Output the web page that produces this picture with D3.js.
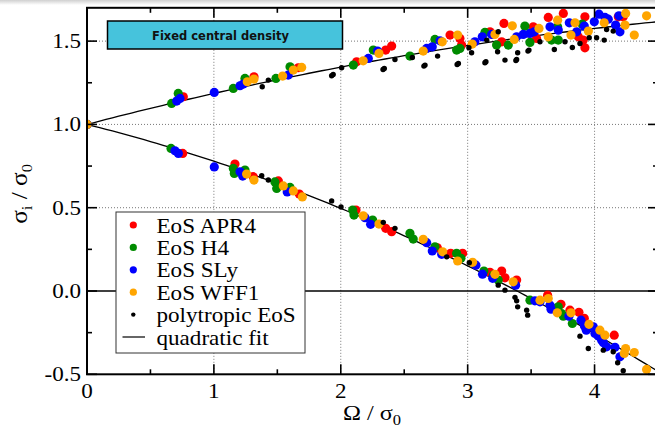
<!DOCTYPE html>
<html>
<head>
<meta charset="utf-8">
<script src="https://cdn.jsdelivr.net/npm/d3@7"></script>
<style>
  html, body { margin: 0; padding: 0; background: #fff; }
  svg { display: block; }
</style>
</head>
<body>
<svg id="chart" width="655" height="429"></svg>
<script>
// ---------------- data ----------------
const seriesNames = ["EoS APR4", "EoS H4", "EoS SLy", "EoS WFF1", "polytropic EoS"];
const xTickLabels = ["0", "1", "2", "3", "4"];
const yTickLabels = ["-0.5", "0.0", "0.5", "1.0", "1.5"];

const apr4 = [
  [0,1.0],[0.759,1.166],[1.316,1.286],[1.665,1.34],[2.125,1.376],[2.354,1.446],[2.401,1.47],
  [2.861,1.536],[2.939,1.516],[2.952,1.476],[3.176,1.556],[3.268,1.496],[3.286,1.606],[3.517,1.586],
  [3.543,1.516],[3.635,1.642],[3.754,1.666],[3.872,1.526],[3.911,1.506],[3.924,1.46],[3.924,1.646],
  [4.187,1.646],[4.226,1.646],
  [0.754,0.826],[1.166,0.762],[1.31,0.686],[1.508,0.661],[1.673,0.582],[2.12,0.486],[2.354,0.376],
  [2.401,0.356],[2.761,0.259],[2.866,0.226],[2.96,0.226],[3.176,0.112],[3.268,0.12],[3.294,0.079],
  [3.386,0.066],[3.63,-0.025],[3.735,-0.08],[3.806,-0.115],[3.877,-0.128],[3.919,-0.164],[4.155,-0.265]
];
const h4 = [
  [0,1.0],[0.667,1.126],[0.719,1.186],[1.153,1.216],[1.245,1.276],[1.489,1.276],[1.60,1.346],[2.099,1.356],
  [2.256,1.446],[2.545,1.41],[2.742,1.51],[2.913,1.446],[2.939,1.456],[3.136,1.552],[3.228,1.476],
  [3.32,1.476],[3.451,1.59],[3.491,1.492],[3.661,1.506],[3.709,1.586],[3.714,1.506],[3.903,1.602],
  [0.662,0.856],[1.153,0.736],[1.161,0.706],[1.245,0.726],[1.481,0.655],[1.495,0.616],[1.60,0.622],
  [2.094,0.486],[2.104,0.456],[2.251,0.426],[2.545,0.346],[2.571,0.312],[2.742,0.265],[2.913,0.226],
  [2.947,0.196],[3.128,0.12],[3.202,0.095],[3.241,0.066],[3.491,-0.055],[3.688,-0.105],[3.714,-0.095],
  [3.74,-0.135],[3.754,-0.151],[3.825,-0.195]
];
const sly = [
  [0,1.0],[0.707,1.14],[0.733,1.156],[1.003,1.192],[1.206,1.232],[1.232,1.242],[1.586,1.296],[2.217,1.396],
  [2.29,1.44],[2.677,1.456],[2.721,1.466],[2.782,1.502],[3.057,1.496],[3.115,1.526],[3.189,1.54],
  [3.386,1.526],[3.438,1.54],[3.491,1.546],[3.525,1.556],[3.649,1.586],[3.714,1.566],[3.801,1.61],
  [3.859,1.556],[3.919,1.59],[3.998,1.616],[4.035,1.662],[4.082,1.642],[4.108,1.632],[4.166,1.596],
  [4.192,1.652],[4.20,1.556],
  [0.693,0.842],[0.72,0.826],[1.003,0.745],[1.206,0.716],[1.227,0.69],[1.578,0.595],[2.191,0.44],
  [2.235,0.40],[2.677,0.29],[2.721,0.24],[2.795,0.22],[3.065,0.155],[3.117,0.101],[3.197,0.076],
  [3.378,0.035],[3.53,-0.059],[3.57,-0.065],[3.649,-0.085],[3.657,-0.109],[3.798,-0.151],[3.893,-0.175],
  [3.92,-0.21],[3.935,-0.235],[3.99,-0.215],[4.003,-0.255],[4.03,-0.27],[4.056,-0.295],[4.07,-0.31],
  [4.095,-0.335],[4.161,-0.338],[4.20,-0.395]
];
const wff1 = [
  [0,1.0],[1.263,1.256],[1.316,1.272],[1.542,1.29],[1.626,1.326],[1.692,1.342],[2.177,1.382],[2.301,1.426],
  [2.65,1.44],[2.8,1.496],[2.921,1.536],[3.036,1.482],[3.215,1.54],[3.352,1.592],[3.367,1.51],
  [3.562,1.576],[3.635,1.526],[3.709,1.626],[3.814,1.536],[3.846,1.61],[3.951,1.56],[4.076,1.61],
  [4.24,1.596],[4.245,1.666],[4.313,1.536],[4.41,1.652],
  [1.258,0.702],[1.316,0.666],[1.547,0.631],[1.626,0.601],[1.697,0.565],[2.177,0.451],[2.301,0.402],
  [2.65,0.31],[2.803,0.235],[2.921,0.18],[3.039,0.172],[3.215,0.10],[3.359,0.055],[3.57,-0.055],
  [3.635,-0.045],[3.706,-0.131],[3.814,-0.131],[3.956,-0.20],[4.042,-0.235],[4.082,-0.265],
  [4.234,-0.375],[4.245,-0.345],[4.313,-0.369],[4.41,-0.471]
];
const polytropic = [
  [1.381,1.226],[1.429,1.266],[1.928,1.292],[1.94,1.30],[2.007,1.34],[2.333,1.330],[2.343,1.336],[2.427,1.39],
  [2.564,1.402],[2.655,1.350],[2.664,1.356],[2.763,1.41],[2.917,1.360],[2.927,1.366],[3.01,1.46],
  [3.031,1.43],[3.15,1.506],[3.136,1.370],[3.144,1.376],[3.236,1.436],[3.241,1.556],[3.294,1.386],
  [3.380,1.384],[3.386,1.39],[3.394,1.43],[3.475,1.440],[3.483,1.446],[3.57,1.496],[3.683,1.45],
  [3.767,1.496],[3.825,1.462],[3.885,1.486],[3.958,1.52],[4.016,1.52],[4.076,1.506],[4.095,1.57],[4.147,1.56],
  [1.377,0.692],[1.429,0.666],[1.928,0.541],[2.002,0.505],[2.335,0.412],[2.427,0.376],[2.835,0.205],
  [3.013,0.17],[3.241,0.035],[3.294,0.005],[3.373,-0.038],[3.386,-0.059],[3.394,-0.095],[3.465,-0.115],
  [3.473,-0.145],[3.885,-0.271],[3.951,-0.345],[4.069,-0.355],[4.147,-0.365],[4.182,-0.431],[4.226,-0.479]
];
// quadratic fit coefficients: sigma = c0 + c1*x + c2*x^2
const fitUpper = [1.0, 0.200, -0.014];
const fitLower = [1.0, -0.190, -0.031];
const fitX = d3.range(0, 4.51, 0.05);

// ---------------- drawing ----------------
const colors = ["#ff0000", "#008b00", "#0000ff", "#ffa500", "#000000"];
const radii = [4.6, 4.6, 4.6, 4.6, 2.7];
const allSeries = [apr4, h4, sly, wff1, polytropic];

const svg = d3.select("#chart");
const X0 = 87, X1 = 658, Y0 = 374.3, Y1 = 7.8;
const x = d3.scaleLinear().domain([0, 4.5]).range([X0, X1]);
const y = d3.scaleLinear().domain([-0.5, 1.7]).range([Y0, Y1]);
const SX = 1.1; // horizontal stretch of the text

// top grey shade
const defs = svg.append("defs");
const grad = defs.append("linearGradient").attr("id", "shade").attr("x1", 0).attr("y1", 0).attr("x2", 0).attr("y2", 1);
grad.append("stop").attr("offset", "0%").attr("stop-color", "#d0d0d0");
grad.append("stop").attr("offset", "100%").attr("stop-color", "#ffffff");
svg.append("rect").attr("x", 0).attr("y", 0).attr("width", 655).attr("height", 5).attr("fill", "url(#shade)");

defs.append("clipPath").attr("id", "plotclip").append("rect")
  .attr("x", X0).attr("y", Y1).attr("width", X1 - X0).attr("height", Y0 - Y1);

// grid
const grid = svg.append("g");
[1, 2, 3, 4].forEach(v => grid.append("line")
  .attr("x1", x(v)).attr("x2", x(v)).attr("y1", Y1).attr("y2", Y0)
  .attr("stroke", "#777").attr("stroke-width", 1).attr("stroke-dasharray", "1,2"));
[0.5, 1.0, 1.5].forEach(v => grid.append("line")
  .attr("x1", X0).attr("x2", X1).attr("y1", y(v)).attr("y2", y(v))
  .attr("stroke", "#777").attr("stroke-width", 1).attr("stroke-dasharray", "1,2"));
// zero line
svg.append("line").attr("x1", X0).attr("x2", X1).attr("y1", y(0)).attr("y2", y(0))
  .attr("stroke", "#000").attr("stroke-width", 1.5);

// fit curves
const line = d3.line().x(d => x(d[0])).y(d => y(d[1]));
[fitUpper, fitLower].forEach(c => {
  const pts = fitX.map(v => [v, c[0] + c[1] * v + c[2] * v * v]);
  svg.append("path").attr("d", line(pts)).attr("fill", "none")
    .attr("stroke", "#000").attr("stroke-width", 1.3).attr("clip-path", "url(#plotclip)");
});

// points
const pg = svg.append("g").attr("clip-path", "url(#plotclip)");
allSeries.forEach((s, i) => {
  pg.append("g").selectAll("circle").data(s).join("circle")
    .attr("cx", d => x(d[0])).attr("cy", d => y(d[1])).attr("r", radii[i])
    .attr("fill", colors[i]);
});

// frame
svg.append("rect").attr("x", X0).attr("y", Y1).attr("width", X1 - X0).attr("height", Y0 - Y1)
  .attr("fill", "none").attr("stroke", "#000").attr("stroke-width", 2);

// ticks
const tk = svg.append("g").attr("stroke", "#000").attr("stroke-width", 1.6);
d3.range(0, 4.51, 0.5).forEach((v, i) => {
  const L = i % 2 === 0 ? 10 : 5;
  tk.append("line").attr("x1", x(v)).attr("x2", x(v)).attr("y1", Y0).attr("y2", Y0 - L);
  tk.append("line").attr("x1", x(v)).attr("x2", x(v)).attr("y1", Y1).attr("y2", Y1 + L);
});
d3.range(-0.5, 1.71, 0.25).forEach((v, i) => {
  const L = i % 2 === 0 ? 10 : 5;
  tk.append("line").attr("x1", X0).attr("x2", X0 + L).attr("y1", y(v)).attr("y2", y(v));
  tk.append("line").attr("x1", X1).attr("x2", X1 - L).attr("y1", y(v)).attr("y2", y(v));
});

function txt(px, py, str, anchor, size, rot) {
  const t = svg.append("text")
    .attr("transform", `translate(${px},${py}) ${rot ? "rotate(" + rot + ")" : ""} scale(${SX},1)`)
    .attr("text-anchor", anchor || "start")
    .attr("font-family", "'Liberation Serif', 'DejaVu Serif', serif")
    .attr("font-size", size).attr("fill", "#000");
  if (str !== null) t.text(str);
  return t;
}

// tick labels
x.ticks(5).filter(v => Number.isInteger(v) && v <= 4).forEach((v, i) => txt(x(v), 398, xTickLabels[i], "middle", 21));
[-0.5, 0, 0.5, 1.0, 1.5].forEach((v, i) => txt(81, y(v) + 7, yTickLabels[i], "end", 21));

// axis titles
const xt = txt(372, 420, null, "middle", 22);
xt.append("tspan").text("Ω / σ");
xt.append("tspan").attr("font-size", 15).attr("dy", 5).text("0");

const yt = txt(27, 194, null, "middle", 23, -90);
yt.append("tspan").text("σ");
yt.append("tspan").attr("font-size", 15).attr("dy", 5).text("i");
yt.append("tspan").attr("dy", -5).text(" / σ");
yt.append("tspan").attr("font-size", 15).attr("dy", 5).text("0");

// title box
svg.append("rect").attr("x", 107.5).attr("y", 21).attr("width", 235).attr("height", 28)
  .attr("fill", "#46c3dc").attr("stroke", "#000").attr("stroke-width", 1.5);
svg.append("text").attr("x", 220.5).attr("y", 39.5).attr("text-anchor", "middle")
  .attr("font-family", "'DejaVu Sans', sans-serif").attr("font-weight", "bold")
  .attr("font-size", 11.5).attr("fill", "#111").text("Fixed central density");

// legend
const lg = svg.append("g");
lg.append("rect").attr("x", 116).attr("y", 212).attr("width", 189).attr("height", 141)
  .attr("fill", "#fff").attr("stroke", "#333").attr("stroke-width", 1);
const legendLabels = seriesNames.concat(["quadratic fit"]);
legendLabels.forEach((name, i) => {
  const cy = 225 + i * 22.4;
  if (i < 5) {
    lg.append("circle").attr("cx", 133.3).attr("cy", cy).attr("r", i < 4 ? 3.6 : 2.2).attr("fill", colors[i]);
  } else {
    lg.append("line").attr("x1", 122.5).attr("x2", 145).attr("y1", cy).attr("y2", cy)
      .attr("stroke", "#000").attr("stroke-width", 1.2);
  }
  txt(156.5, cy + 7.5, name, "start", 21);
});
</script>
</body>
</html>
